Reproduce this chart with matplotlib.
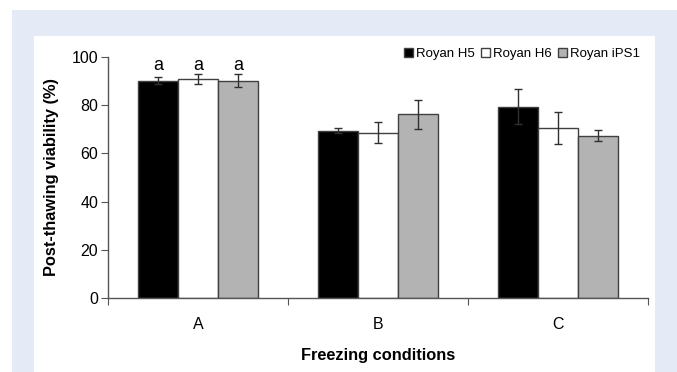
import matplotlib
matplotlib.use("Agg")
import matplotlib.pyplot as plt
from matplotlib.patches import Rectangle
import numpy as np

categories = ["A", "B", "C"]
series = ["Royan H5", "Royan H6", "Royan iPS1"]
h5 = [90.2, 69.5, 79.4]
h6 = [91.0, 68.6, 70.5]
ips1 = [90.2, 76.3, 67.4]
h5_err = [1.4, 1.0, 7.3]
h6_err = [2.0, 4.3, 6.5]
ips1_err = [2.7, 6.0, 2.3]
annot = ["a", "a", "a"]
yticks = [0, 20, 40, 60, 80, 100]

W, H = 677, 372
fig = plt.figure(figsize=(W / 100, H / 100), dpi=100, facecolor="white")
fig.patches.append(Rectangle((12 / W, 0), 1 - 12 / W, 1 - 10 / H, transform=fig.transFigure,
                             facecolor="#e5ebf6", edgecolor="none", zorder=-10))
fig.patches.append(Rectangle((34 / W, 0), (655 - 34) / W, 1 - 35.5 / H, transform=fig.transFigure,
                             facecolor="white", edgecolor="none", zorder=-9))

ax = fig.add_axes([108 / W, 1 - 298 / H, (648 - 108) / W, (298 - 57) / H])
ax.set_facecolor("none")

x = np.arange(len(categories))
bw = 0.222
colors = ["black", "white", "#b3b3b3"]
vals = [h5, h6, ips1]
errs = [h5_err, h6_err, ips1_err]
for i, (v, e, c, name) in enumerate(zip(vals, errs, colors, series)):
    ax.bar(x + (i - 1) * bw, v, bw, color=c, edgecolor="#404040", linewidth=1.0, label=name, zorder=2)
    ax.errorbar(x + (i - 1) * bw, v, yerr=e, fmt="none", ecolor="#303030", elinewidth=1.0,
                capsize=3, capthick=1.0, zorder=3)

for i, t in enumerate(annot):
    ax.text(x[0] + (i - 1) * bw, 96.5, t, ha="center", va="center", fontsize=13,
            family="Liberation Sans", color="black")

ax.set_xlim(-0.5, 2.5)
ax.set_ylim(0, 100)
ax.set_yticks(yticks)
ax.set_xticks([-0.5, 0.5, 1.5, 2.5])
ax.set_xticklabels([])
ax.set_xticks(x, minor=True)
ax.set_xticklabels(categories, minor=True, fontsize=11.5, family="Liberation Sans")
ax.tick_params(axis="x", which="minor", length=0, pad=14)
ax.tick_params(axis="x", which="major", length=5, color="#555555", direction="out")
ax.tick_params(axis="y", length=5, color="#555555", labelsize=11.5, pad=2)
for lab in ax.get_yticklabels():
    lab.set_family("Liberation Sans")
for s in ["top", "right"]:
    ax.spines[s].set_visible(False)
for s in ["left", "bottom"]:
    ax.spines[s].set_color("#555555")
    ax.spines[s].set_linewidth(1.0)

ax.set_ylabel("Post-thawing viability (%)", fontsize=11.8, fontweight="bold",
              family="Liberation Sans", labelpad=9)
ax.set_xlabel("Freezing conditions", fontsize=11.8, fontweight="bold",
              family="Liberation Sans", labelpad=11)

leg = ax.legend(loc="upper right", bbox_to_anchor=(1.0, 1.07), ncol=3, frameon=False,
                handlelength=0.7, handleheight=0.7, handletextpad=0.2, borderaxespad=0.2,
                columnspacing=0.5, prop={"family": "Liberation Sans", "size": 9.5})

fig.savefig("out.png", dpi=100, facecolor="white")
